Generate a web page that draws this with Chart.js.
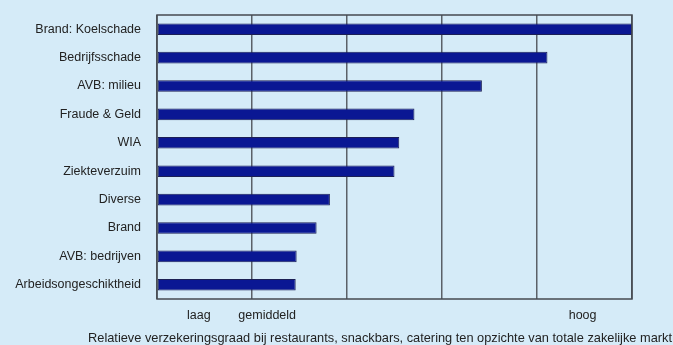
<!DOCTYPE html>
<html>
<head>
<meta charset="utf-8">
<title>Relatieve verzekeringsgraad</title>
<script src="https://cdn.jsdelivr.net/npm/chart.js@4/dist/chart.umd.min.js"></script>
<style>
  html, body { margin: 0; padding: 0; background: #d5ebf8; }
  #wrap { position: relative; width: 673px; height: 345px; }
</style>
</head>
<body>
<div id="wrap"><canvas id="chart"></canvas></div>
<script>
// Verzekeringsgraad per branche (schaal 0 = laag ... 5 = hoog)
const categories = [
  'Brand: Koelschade', 'Bedrijfsschade', 'AVB: milieu', 'Fraude & Geld', 'WIA',
  'Ziekteverzuim', 'Diverse', 'Brand', 'AVB: bedrijven', 'Arbeidsongeschiktheid'
];
const values = [5.0, 4.11, 3.42, 2.71, 2.55, 2.50, 1.82, 1.68, 1.47, 1.46];

// Schaalindeling en tekstlabels onder de as
const scaleMin = 0;
const scaleMax = 5;
const tickLabels = ['laag', 'gemiddeld', 'hoog'];
const tickValues = [0.44, 1.16, 4.48];
const caption = 'Relatieve verzekeringsgraad bij restaurants, snackbars, catering ten opzichte van totale zakelijke markt';

const FONT = "'Liberation Sans', Arial, sans-serif";
const TEXT = '#222222';
const GRID = '#5b6168';

// Kader om het plotgebied en het onderschrift
const framePlugin = {
  id: 'frame',
  afterDatasetsDraw(chart) {
    const { ctx, chartArea: a } = chart;
    ctx.save();
    ctx.strokeStyle = '#454a50';
    ctx.lineWidth = 1.5;
    ctx.strokeRect(a.left, a.top, a.right - a.left, a.bottom - a.top);
    ctx.restore();
  },
  afterDraw(chart) {
    const { ctx } = chart;
    ctx.save();
    ctx.font = '12.8px ' + FONT;
    ctx.fillStyle = TEXT;
    ctx.textAlign = 'right';
    ctx.textBaseline = 'alphabetic';
    ctx.fillText(caption, chart.width - 1, 342);
    ctx.restore();
  }
};

new Chart(document.getElementById('chart'), {
  type: 'bar',
  data: {
    labels: categories,
    datasets: [{
      data: values,
      backgroundColor: '#0a1793',
      borderColor: '#1b1f55',
      borderWidth: 1,
      borderSkipped: false,
      categoryPercentage: 1,
      barPercentage: 0.41
    }]
  },
  options: {
    indexAxis: 'y',
    responsive: true,
    maintainAspectRatio: false,
    animation: false,
    layout: { padding: { top: 15, right: 41, bottom: 0, left: 0 } },
    plugins: {
      legend: { display: false },
      tooltip: { enabled: false },
      title: { display: false }
    },
    scales: {
      y: {
        type: 'category',
        grid: { display: false, drawTicks: false },
        border: { display: false },
        ticks: { color: TEXT, font: { family: FONT, size: 12.5 }, padding: 16 },
        afterFit(s) {
          s.width = 157;
          s.paddingTop = 0;
          s.paddingBottom = 0;
        }
      },
      x: {
        position: 'bottom',
        min: scaleMin,
        max: scaleMax,
        ticks: { display: false, stepSize: 1 },
        grid: { color: GRID, lineWidth: 1.5, drawTicks: false },
        border: { display: false },
        afterFit(s) { s.height = 0; }
      },
      xt: {
        position: 'bottom',
        min: scaleMin,
        max: scaleMax,
        grid: { display: false, drawTicks: false },
        border: { display: false },
        afterBuildTicks(s) { s.ticks = tickValues.map(v => ({ value: v })); },
        ticks: {
          autoSkip: false,
          maxRotation: 0,
          padding: 9,
          color: TEXT,
          font: { family: FONT, size: 12.5 },
          callback: (v, i) => tickLabels[i]
        },
        afterFit(s) { s.height = 46; }
      }
    }
  },
  plugins: [framePlugin]
});
</script>
</body>
</html>
